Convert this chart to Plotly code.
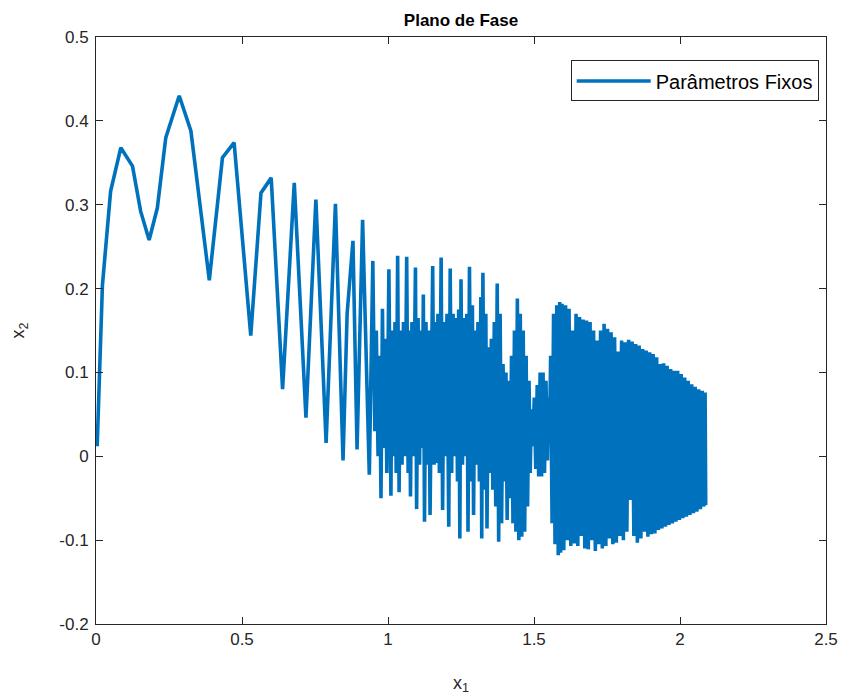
import plotly.graph_objects as go

# Trajectory vertices (x1, x2)
start_pts = [
    (0.004, 0.012), (0.022, 0.204), (0.050, 0.316), (0.085, 0.368), (0.125, 0.346),
    (0.153, 0.292), (0.182, 0.258), (0.210, 0.296), (0.239, 0.380), (0.285, 0.430),
    (0.325, 0.388), (0.388, 0.210), (0.433, 0.356), (0.473, 0.374), (0.530, 0.144),
    (0.565, 0.314), (0.600, 0.332), (0.639, 0.080), (0.679, 0.326), (0.719, 0.046),
    (0.753, 0.306), (0.788, 0.016), (0.820, 0.301), (0.846, -0.005), (0.860, 0.170),
    (0.880, 0.257), (0.894, 0.008), (0.913, 0.282), (0.936, -0.022), (0.948, 0.233),
]

mid_pts = [
    (0.955, 0.030), (0.960, 0.150), (0.966, 0.000), (0.971, 0.120), (0.976, -0.050),
    (0.981, 0.176), (0.986, 0.010), (0.991, 0.140), (0.996, -0.020), (1.003, 0.223),
    (1.010, -0.047), (1.014, 0.150), (1.019, 0.000), (1.024, 0.160), (1.028, -0.020),
    (1.033, 0.239), (1.038, -0.043), (1.043, 0.150), (1.048, -0.010), (1.053, 0.160),
    (1.058, 0.000), (1.064, 0.238), (1.069, -0.020), (1.073, 0.150), (1.077, -0.048),
    (1.082, 0.160), (1.087, 0.000), (1.094, 0.225), (1.098, -0.063), (1.103, 0.165),
    (1.108, -0.010), (1.113, 0.150), (1.117, 0.010), (1.121, 0.193), (1.125, -0.078),
    (1.130, 0.160), (1.135, -0.010), (1.140, 0.150), (1.144, -0.070), (1.153, 0.227),
    (1.158, -0.010), (1.162, 0.160), (1.166, -0.008), (1.171, 0.170), (1.176, -0.020),
    (1.182, 0.237), (1.187, -0.064), (1.192, 0.160), (1.197, 0.000), (1.202, 0.170),
    (1.208, -0.084), (1.213, 0.224), (1.218, -0.020), (1.223, 0.170), (1.228, 0.000),
    (1.233, 0.165), (1.238, -0.030), (1.242, 0.175), (1.246, -0.098), (1.250, 0.211),
    (1.255, -0.010), (1.260, 0.165), (1.265, 0.000), (1.270, 0.170), (1.274, -0.090),
    (1.279, 0.226), (1.284, -0.030), (1.289, 0.180), (1.293, -0.070), (1.298, 0.150),
    (1.303, -0.010), (1.308, 0.160), (1.313, -0.030), (1.318, 0.190), (1.321, -0.098),
    (1.325, 0.219), (1.330, -0.040), (1.335, 0.170), (1.339, -0.086), (1.344, 0.130),
    (1.349, -0.020), (1.354, 0.140), (1.359, -0.040), (1.364, 0.160), (1.369, -0.060),
    (1.374, 0.206), (1.379, -0.102), (1.384, 0.170), (1.389, -0.080), (1.394, 0.110),
    (1.399, -0.030), (1.404, 0.100), (1.408, -0.076), (1.413, 0.090), (1.418, -0.050),
    (1.423, 0.120), (1.428, -0.080), (1.433, 0.150), (1.438, -0.090), (1.443, 0.188),
    (1.448, -0.100), (1.453, 0.170), (1.458, -0.096), (1.463, 0.150), (1.468, -0.090),
    (1.473, 0.120), (1.478, -0.060), (1.483, 0.090), (1.487, -0.020), (1.491, 0.056),
    (1.496, 0.012), (1.501, 0.070), (1.506, -0.015), (1.511, 0.085), (1.516, -0.024),
    (1.521, 0.100), (1.526, -0.024), (1.531, 0.100), (1.536, -0.020), (1.541, 0.090),
    (1.546, -0.005), (1.550, 0.070), (1.553, 0.015), (1.557, 0.120), (1.562, -0.080),
    (1.567, 0.170), (1.572, -0.105), (1.578, 0.180), (1.583, -0.118), (1.588, 0.184),
]

end_pts = [
    (1.591, -0.115), (1.596, 0.182), (1.602, -0.112), (1.608, 0.180), (1.614, -0.100),
    (1.620, 0.176), (1.626, -0.107), (1.632, 0.150), (1.638, -0.104), (1.644, 0.170),
    (1.650, -0.107), (1.656, 0.166), (1.662, -0.095), (1.668, 0.163), (1.674, -0.110),
    (1.680, 0.162), (1.686, -0.111), (1.692, 0.160), (1.698, -0.100), (1.704, 0.150),
    (1.710, -0.113), (1.716, 0.138), (1.722, -0.105), (1.728, 0.150), (1.734, -0.110),
    (1.740, 0.158), (1.746, -0.107), (1.752, 0.152), (1.758, -0.098), (1.764, 0.148),
    (1.770, -0.105), (1.776, 0.142), (1.782, -0.103), (1.788, 0.125), (1.794, -0.095),
    (1.800, 0.138), (1.806, -0.100), (1.812, 0.136), (1.818, -0.090), (1.824, 0.139),
    (1.830, -0.052), (1.836, 0.137), (1.842, -0.095), (1.848, 0.134), (1.854, -0.103),
    (1.860, 0.132), (1.866, -0.098), (1.872, 0.128), (1.878, -0.090), (1.884, 0.126),
    (1.890, -0.096), (1.896, 0.124), (1.902, -0.093), (1.908, 0.122), (1.914, -0.092),
    (1.920, 0.118), (1.926, -0.088), (1.932, 0.110), (1.938, -0.086), (1.944, 0.111),
    (1.950, -0.084), (1.956, 0.108), (1.962, -0.082), (1.968, 0.104), (1.974, -0.080),
    (1.980, 0.102), (1.986, -0.078), (1.992, 0.102), (1.998, -0.076), (2.004, 0.098),
    (2.010, -0.074), (2.016, 0.094), (2.022, -0.072), (2.028, 0.090), (2.034, -0.070),
    (2.040, 0.086), (2.046, -0.068), (2.052, 0.083), (2.058, -0.066), (2.064, 0.080),
    (2.070, -0.063), (2.076, 0.078), (2.082, -0.060), (2.086, 0.076), (2.088, -0.058),
]

x1 = [p[0] for p in start_pts + mid_pts + end_pts]
x2 = [p[1] for p in start_pts + mid_pts + end_pts]

x_ticks = [0, 0.5, 1, 1.5, 2, 2.5]
x_tick_labels = ["0", "0.5", "1", "1.5", "2", "2.5"]
y_ticks = [-0.2, -0.1, 0, 0.1, 0.2, 0.3, 0.4, 0.5]
y_tick_labels = ["-0.2", "-0.1", "0", "0.1", "0.2", "0.3", "0.4", "0.5"]

FONT = "Liberation Sans"
TXT = "#262626"

fig = go.Figure()
fig.add_trace(go.Scatter(
    x=x1, y=x2, mode="lines", name="Parâmetros Fixos",
    line=dict(color="#0072BD", width=3.6),
))

axis_common = dict(
    showline=True, linecolor=TXT, linewidth=1, mirror="ticks",
    ticks="inside", ticklen=7, tickcolor=TXT, tickwidth=1,
    showgrid=False, zeroline=False, automargin=False,
    tickfont=dict(family=FONT, size=17, color=TXT),
)

# page body has an 8px default margin, so the figure is shrunk by 8px
fig.update_layout(
    width=847, height=691,
    margin=dict(l=88, r=29, t=29, b=75),
    paper_bgcolor="white", plot_bgcolor="white",
    title=dict(text="<b>Plano de Fase</b>", x=0.5, xref="paper",
               y=1 - 12 / 691, yref="container", yanchor="middle",
               font=dict(family=FONT, size=17, color="black")),
    xaxis=dict(range=[0, 2.5], tickvals=x_ticks, ticktext=x_tick_labels,
               title=dict(text="x<sub>1</sub>", font=dict(family=FONT, size=18, color=TXT),
                          standoff=27),
               **axis_common),
    yaxis=dict(range=[-0.2, 0.5], tickvals=y_ticks, ticktext=y_tick_labels,
               ticklabelstandoff=3,
               title=dict(text="x<sub>2</sub>", font=dict(family=FONT, size=18, color=TXT),
                          standoff=31),
               **axis_common),
    showlegend=True,
    legend=dict(x=0.99, y=0.96, xanchor="right", yanchor="top",
                bgcolor="white", bordercolor=TXT, borderwidth=1,
                font=dict(family=FONT, size=20, color="black"),
                itemwidth=74),
)

fig.write_html("out.html")
